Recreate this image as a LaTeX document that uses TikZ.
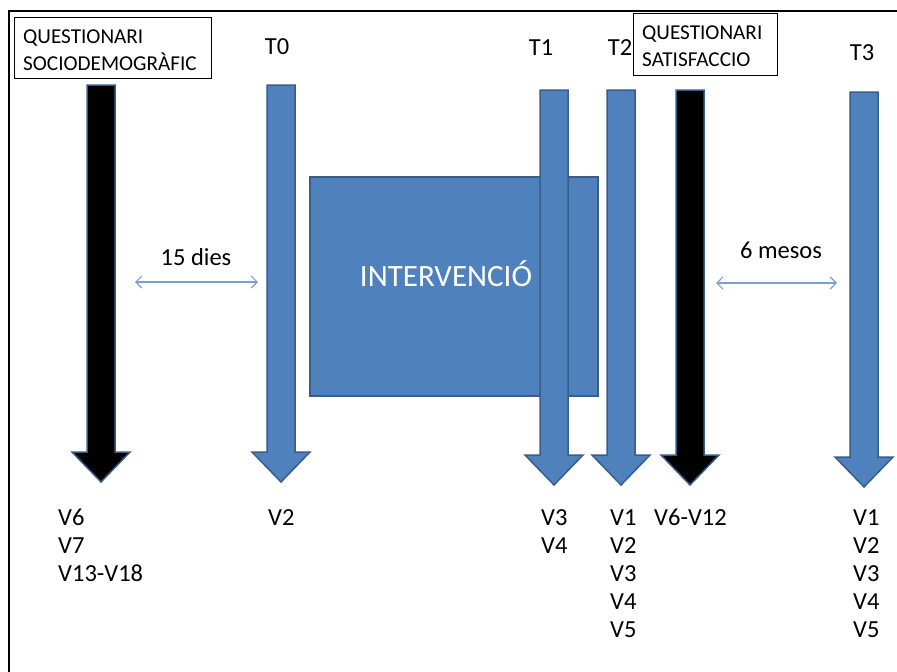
\documentclass[tikz,border=0pt]{standalone}
\usepackage{fontspec}
\setmainfont{Carlito}
\usetikzlibrary{arrows.meta}
\definecolor{barblue}{HTML}{4F81BD}
\definecolor{edgeblue}{HTML}{385D8A}
\definecolor{linkblue}{HTML}{7A9FD0}
\tikzset{
  bluearr/.style={fill=barblue,draw=edgeblue,line width=1.5pt,line join=miter},
  blackarr/.style={fill=black,draw=edgeblue,line width=1.5pt,line join=miter},
  qbox/.style={draw=black,line width=1pt},
  boxtxt/.style={font=\fontsize{21.2}{27}\selectfont,inner sep=0pt,align=left},
  lbl/.style={font=\fontsize{24.5}{28}\selectfont,inner sep=0pt},
  vl/.style={lbl,anchor=base west},
  span/.style={draw=linkblue,line width=1.2pt,{Straight Barb[length=6pt,width=12pt]}-{Straight Barb[length=6pt,width=12pt]}}
}
\newcommand\blockarr[5]{%
  \draw[#5] (#1-14,#2) -- (#1+14,#2) -- (#1+14,#3) -- (#1+29,#3) -- (#1,#4)
    -- (#1-29,#3) -- (#1-14,#3) -- cycle;}
\begin{document}
\begin{tikzpicture}[x=1pt,y=-1pt]
\useasboundingbox (0,0) rectangle (897,672);
% frame
\draw[line width=2pt] (9,672) -- (9,11) -- (897,11);
% questionnaire boxes
\draw[qbox] (14,17) rectangle (211,78);
\node[boxtxt,anchor=west] (qsoc) at (23,50) {QUESTIONARI\\SOCIODEMOGRÀFIC};
\draw[qbox,fill=white] (633,13) rectangle (777,75);
\node[boxtxt,anchor=west] (qsat) at (642,46) {QUESTIONARI\\SATISFACCIO};
% time labels
\node[lbl] (t0) at (277,47) {T0};
\node[lbl] (t1) at (541,48) {T1};
\node[lbl] (t2) at (620,48) {T2};
\node[lbl] (t3) at (862,53) {T3};
% arrows
\blockarr{101}{85}{452}{482}{blackarr}
\blockarr{281}{85}{452}{482}{bluearr}
% intervention
\draw[bluearr] (310,177) rectangle (598,396);
\node[font=\fontsize{31}{36}\selectfont,text=white,inner sep=0pt] (interv) at (446,274) {INTERVENCIÓ};
\blockarr{554}{90}{455}{485}{bluearr}
\blockarr{621}{90}{455}{485}{bluearr}
\blockarr{690}{90}{455}{485}{blackarr}
\blockarr{864}{92}{457}{487}{bluearr}
% spans
\node[lbl] (d15) at (196,257) {15 dies};
\coordinate (s1a) at (135,282);
\coordinate (s1b) at (258,282);
\draw[span] (s1a) -- (s1b);
\node[lbl] (m6) at (781,250) {6 mesos};
\coordinate (s2a) at (716,283);
\coordinate (s2b) at (837,283);
\draw[span] (s2a) -- (s2b);
% variable labels
\node[vl] (va1) at (58,525) {V6};
\node[vl] (va2) at (58,553) {V7};
\node[vl] (va3) at (58,581) {V13-V18};
\node[vl] (vb1) at (268,525) {V2};
\node[vl] (vc1) at (541,525) {V3};
\node[vl] (vc2) at (541,553) {V4};
\node[vl] (vd1) at (610,525) {V1};
\node[vl] (vd2) at (610,553) {V2};
\node[vl] (vd3) at (610,581) {V3};
\node[vl] (vd4) at (610,609) {V4};
\node[vl] (vd5) at (610,637) {V5};
\node[vl] (ve1) at (654,525) {V6-V12};
\node[vl] (vf1) at (853,525) {V1};
\node[vl] (vf2) at (853,553) {V2};
\node[vl] (vf3) at (853,581) {V3};
\node[vl] (vf4) at (853,609) {V4};
\node[vl] (vf5) at (853,637) {V5};
\end{tikzpicture}
\end{document}
